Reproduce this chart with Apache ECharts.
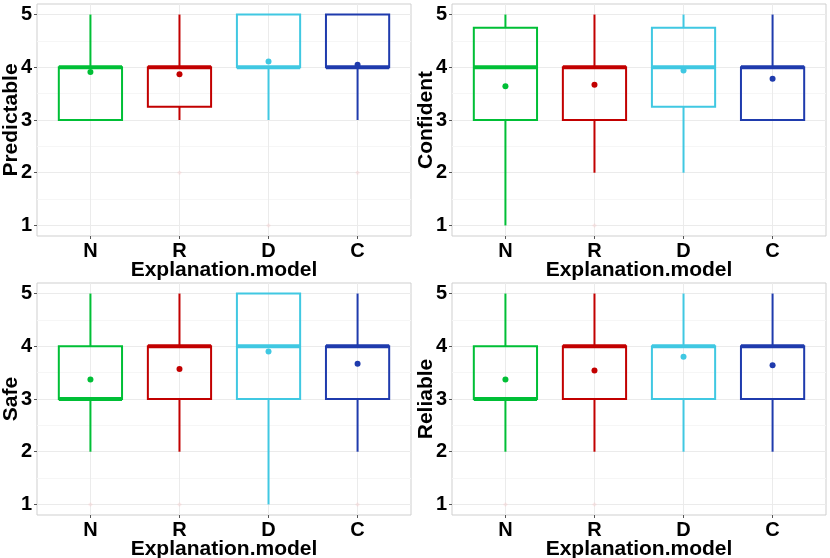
<!DOCTYPE html>
<html><head><meta charset="utf-8">
<script src="https://cdn.jsdelivr.net/npm/echarts@6/dist/echarts.min.js"></script>
<style>html,body{margin:0;padding:0;background:#fff}#c{width:830px;height:558px}</style>
</head><body><div id="c"></div>
<script>
const categories = ['N', 'R', 'D', 'C'];
const colors = ['#00BF36', '#C20000', '#40C8E2', '#1F3BAD'];
const yTicks = [1, 2, 3, 4, 5];
const measures = ['Predictable', 'Confident', 'Safe', 'Reliable'];

// [lower whisker, Q1, median, Q3, upper whisker] per category N, R, D, C
const predictableStats = [[3, 3, 4, 4, 5], [3, 3.25, 4, 4, 5], [3, 4, 4, 5, 5], [3, 4, 4, 5, 5]];
const confidentStats = [[1, 3, 4, 4.75, 5], [2, 3, 4, 4, 5], [2, 3.25, 4, 4.75, 5], [3, 3, 4, 4, 5]];
const safeStats = [[2, 3, 3, 4, 5], [2, 3, 4, 4, 5], [1, 3, 4, 5, 5], [2, 3, 4, 4, 5]];
const reliableStats = [[2, 3, 3, 4, 5], [2, 3, 4, 4, 5], [2, 3, 4, 4, 5], [2, 3, 4, 4, 5]];

const predictableMeans = [3.91, 3.87, 4.11, 4.05];
const confidentMeans = [3.64, 3.67, 3.94, 3.78];
const safeMeans = [3.37, 3.57, 3.90, 3.67];
const reliableMeans = [3.37, 3.54, 3.80, 3.64];

// outliers: [category index (0-based), value]
const predictableOutliers = [[1, 2], [2, 1], [3, 2]];
const confidentOutliers = [[1, 1]];
const safeOutliers = [[0, 1], [1, 1], [3, 1]];
const reliableOutliers = [[0, 1], [1, 1]];

const allStats = [predictableStats, confidentStats, safeStats, reliableStats];
const allMeans = [predictableMeans, confidentMeans, safeMeans, reliableMeans];
const allOutliers = [predictableOutliers, confidentOutliers, safeOutliers, reliableOutliers];

const panels = [
  {left: 37, top: 4}, {left: 452, top: 4},
  {left: 37, top: 283}, {left: 452, top: 283}
];
const PW = 374, PH = 232;
const FONT = 'Liberation Sans';

const grid = [], xAxis = [], yAxis = [], series = [];
panels.forEach((p, i) => {
  grid.push({left: p.left, top: p.top, width: PW, height: PH, show: true,
    containLabel: false, outerBoundsMode: 'none',
    borderColor: '#cfcfcf', borderWidth: 1, backgroundColor: '#fff'});
  xAxis.push({
    type: 'value', gridIndex: i, min: 0.4, max: 4.6,
    name: 'Explanation.model', nameLocation: 'middle', nameGap: 24, nameMoveOverlap: false,
    nameTextStyle: {fontFamily: FONT, fontWeight: 'bold', fontSize: 21, color: '#000'},
    axisLine: {show: false},
    axisTick: {show: true, length: 3, lineStyle: {color: '#555'}, customValues: [1, 2, 3, 4]},
    axisLabel: {customValues: [1, 2, 3, 4], formatter: v => categories[Math.round(v) - 1],
      fontFamily: FONT, fontWeight: 'bold', fontSize: 20, color: '#000', margin: 5},
    splitLine: {show: false}
  });
  yAxis.push({
    type: 'value', gridIndex: i, min: 0.8, max: 5.2,
    name: measures[i], nameLocation: 'middle', nameGap: 15, nameMoveOverlap: false,
    nameTextStyle: {fontFamily: FONT, fontWeight: 'bold', fontSize: 21, color: '#000'},
    axisLine: {show: false},
    axisTick: {show: true, length: 3, lineStyle: {color: '#555'}, customValues: yTicks},
    axisLabel: {customValues: yTicks, fontFamily: FONT, fontWeight: 'bold', fontSize: 20, color: '#000', margin: 5},
    splitLine: {show: false}
  });

  const stats = allStats[i], means = allMeans[i];
  const data = stats.map((s, k) => [k + 1, s[0], s[1], s[2], s[3], s[4], means[k], k]);
  const majorY = yTicks.map(v => ({yAxis: v, lineStyle: {color: '#ebebeb', width: 1}}));
  const minorY = yTicks.slice(0, -1).map(v => ({yAxis: v + 0.5, lineStyle: {color: '#f6f6f6', width: 1}}));
  const majorX = categories.map((c, k) => ({xAxis: k + 1, lineStyle: {color: '#ebebeb', width: 1}}));

  series.push({
    type: 'custom', xAxisIndex: i, yAxisIndex: i, z: 5,
    data: data,
    encode: {x: 0, y: [1, 2, 3, 4, 5]},
    markLine: {silent: true, symbol: 'none', label: {show: false}, z: 1,
      lineStyle: {type: 'solid'}, animation: false,
      data: [...minorY, ...majorY, ...majorX]},
    renderItem: (params, api) => {
      const x = api.value(0);
      const col = colors[api.value(7)];
      const bw = api.size([0.71, 0])[0];
      const pMin = api.coord([x, api.value(1)]);
      const pQ1 = api.coord([x, api.value(2)]);
      const pMed = api.coord([x, api.value(3)]);
      const pQ3 = api.coord([x, api.value(4)]);
      const pMax = api.coord([x, api.value(5)]);
      const pMean = api.coord([x, api.value(6)]);
      const lw = 2;
      const ls = {stroke: col, lineWidth: lw, fill: 'none'};
      return {type: 'group', children: [
        {type: 'line', shape: {x1: pMin[0], y1: pMin[1], x2: pQ1[0], y2: pQ1[1]}, style: ls},
        {type: 'line', shape: {x1: pQ3[0], y1: pQ3[1], x2: pMax[0], y2: pMax[1]}, style: ls},
        {type: 'rect', shape: {x: pQ3[0] - bw / 2, y: pQ3[1], width: bw, height: pQ1[1] - pQ3[1]}, style: ls},
        {type: 'line', shape: {x1: pMed[0] - bw / 2, y1: pMed[1], x2: pMed[0] + bw / 2, y2: pMed[1]},
          style: {stroke: col, lineWidth: 4}},
        {type: 'circle', shape: {cx: pMean[0], cy: pMean[1], r: 3}, style: {fill: col}}
      ]};
    }
  });
  series.push({
    type: 'scatter', xAxisIndex: i, yAxisIndex: i, z: 3, symbolSize: 4, silent: true,
    itemStyle: {color: 'rgba(255,90,90,0.12)'},
    data: allOutliers[i].map(o => [o[0] + 1, o[1]])
  });
});

const chart = echarts.init(document.getElementById('c'), null, {renderer: 'canvas'});
chart.setOption({animation: false, backgroundColor: '#fff', grid, xAxis, yAxis, series});
</script></body></html>
